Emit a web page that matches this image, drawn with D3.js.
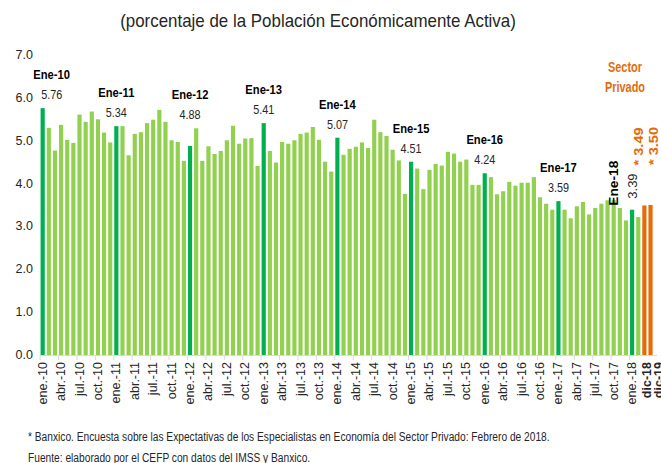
<!DOCTYPE html>
<html>
<head>
<meta charset="utf-8">
<script src="https://cdn.jsdelivr.net/npm/d3@7"></script>
<style>
  body { margin: 0; background: #fff; }
  svg { display: block; font-family: "Liberation Sans", Arial, sans-serif; }
</style>
</head>
<body>
<svg width="661" height="463"></svg>
<script>
// meses mostrados en el eje (cada 3 meses)
const mesesAbr = ["ene.", "feb.", "mar.", "abr.", "may.", "jun.", "jul.", "ago.", "sep.", "oct.", "nov.", "dic."];
const anios = ["10", "11", "12", "13", "14", "15", "16", "17", "18"];

// tasa de desocupación mensual, ene-10 a feb-18
const tasa = [
  5.76, 5.30, 4.77, 5.37, 5.02, 4.95, 5.61, 5.44, 5.68, 5.50, 5.19, 4.96,
  5.34, 5.34, 4.66, 5.16, 5.20, 5.41, 5.49, 5.72, 5.44, 5.01, 4.97, 4.53,
  4.88, 5.29, 4.53, 4.87, 4.69, 4.76, 5.01, 5.35, 4.93, 5.05, 5.06, 4.41,
  5.41, 4.76, 4.49, 4.97, 4.93, 5.01, 5.16, 5.19, 5.32, 5.02, 4.51, 4.28,
  5.07, 4.67, 4.81, 4.86, 4.96, 4.83, 5.49, 5.20, 5.11, 4.79, 4.54, 3.76,
  4.51, 4.35, 3.87, 4.32, 4.46, 4.42, 4.74, 4.70, 4.51, 4.56, 3.97, 3.97,
  4.24, 4.15, 3.75, 3.82, 4.04, 3.95, 4.02, 4.02, 4.15, 3.68, 3.53, 3.39,
  3.59, 3.39, 3.19, 3.47, 3.57, 3.28, 3.43, 3.53, 3.61, 3.62, 3.43, 3.14,
  3.39, 3.22
];

// pronóstico del sector privado (Banxico)
const pronosticoCat = ["dic-18", "dic-19"];
const pronostico = [3.49, 3.50];

// meses de enero resaltados
const eneros = ["Ene-10", "Ene-11", "Ene-12", "Ene-13", "Ene-14", "Ene-15", "Ene-16", "Ene-17", "Ene-18"];

const yTicks = [0, 1, 2, 3, 4, 5, 6, 7];

// construir categorías
const meses = [];
anios.forEach(a => mesesAbr.forEach(m => meses.push(m + "-" + a)));
const mesesDatos = meses.slice(0, tasa.length);

const datos = mesesDatos.map((m, i) => ({ cat: m, valor: tasa[i], tipo: i % 12 === 0 ? "ene" : "mes" }))
  .concat(pronosticoCat.map((c, i) => ({ cat: c, valor: pronostico[i], tipo: "pron" })));

const svg = d3.select("svg");
const colores = { mes: "#92D050", ene: "#00B050", pron: "#E36C09" };

// estrecha el texto para parecerse a Calibri
function condensar(sel, f) {
  sel.each(function () {
    const l = this.getComputedTextLength();
    d3.select(this).attr("textLength", l * f).attr("lengthAdjust", "spacingAndGlyphs");
  });
}

const x = d3.scaleBand()
  .domain(datos.map(d => d.cat))
  .range([39.6, 653.6])
  .paddingInner(0.32)
  .paddingOuter(0.16);

const y = d3.scaleLinear().domain([0, 7]).range([355, 55]);

// título
svg.append("text")
  .attr("x", 318)
  .attr("y", 27)
  .attr("text-anchor", "middle")
  .attr("font-size", 19)
  .attr("fill", "#262626")
  .text("(porcentaje de la Población Económicamente Activa)")
  .call(condensar, 0.89);

// eje Y (solo etiquetas)
svg.append("g")
  .selectAll("text")
  .data(yTicks)
  .join("text")
  .attr("x", 33)
  .attr("y", d => y(d) + 4)
  .attr("text-anchor", "end")
  .attr("font-size", 12.5)
  .attr("fill", "#262626")
  .text(d => d.toFixed(1));

// barras
svg.append("g")
  .selectAll("rect")
  .data(datos)
  .join("rect")
  .attr("x", d => x(d.cat))
  .attr("width", x.bandwidth())
  .attr("y", d => y(d.valor))
  .attr("height", d => y(0) - y(d.valor))
  .attr("fill", d => colores[d.tipo]);

// eje X
const paso = x.step();
const ejeX = svg.append("g");
ejeX.append("line")
  .attr("x1", 39.6).attr("x2", 657)
  .attr("y1", y(0) + 0.5).attr("y2", y(0) + 0.5)
  .attr("stroke", "#d9d9d9");

const etiquetasX = datos.filter((d, i) => (d.tipo !== "pron" && i % 3 === 0) || d.tipo === "pron");
ejeX.selectAll("line.tick")
  .data(etiquetasX.filter(d => d.tipo !== "pron"))
  .join("line")
  .attr("class", "tick")
  .attr("x1", d => x(d.cat) - (paso - x.bandwidth()) / 2 + 0.5)
  .attr("x2", d => x(d.cat) - (paso - x.bandwidth()) / 2 + 0.5)
  .attr("y1", y(0))
  .attr("y2", y(0) + 5)
  .attr("stroke", "#d9d9d9");

ejeX.selectAll("text")
  .data(etiquetasX)
  .join("text")
  .attr("transform", d => {
    const extra = d.tipo !== "pron" ? 4 : (d.cat === "dic-18" ? 7 : 12);
    return `translate(${x(d.cat) + x.bandwidth() / 2 + extra},${y(0) + 7}) rotate(-90)`;
  })
  .attr("text-anchor", "end")
  .attr("font-size", 12.5)
  .attr("font-weight", d => d.tipo === "pron" ? "bold" : "normal")
  .attr("fill", "#262626")
  .text(d => d.cat);

// anotaciones de enero
const anot = svg.append("g");
eneros.forEach((e, k) => {
  const i = k * 12;
  const d = datos[i];
  const cx = x(d.cat) + x.bandwidth() / 2;
  const top = y(d.valor);
  if (k === eneros.length - 1) {
    // Ene-18 vertical
    anot.append("text")
      .attr("transform", `translate(${cx - 14},${top - 4}) rotate(-90)`)
      .attr("font-size", 13).attr("font-weight", "bold").attr("fill", "#000")
      .attr("textLength", 45).attr("lengthAdjust", "spacingAndGlyphs")
      .text(e);
    anot.append("text")
      .attr("transform", `translate(${cx + 5},${top - 11}) rotate(-90)`)
      .attr("font-size", 13).attr("fill", "#262626")
      .text(d.valor.toFixed(2));
    return;
  }
  // por encima de la barra y de sus vecinas
  const vecinas = datos.slice(Math.max(0, i - 1), i + 2).map(v => v.valor);
  const base = y(d3.max(vecinas)) - 9;
  const dx = k === 0 ? 9 : 0;
  anot.append("text")
    .attr("x", cx + dx).attr("y", base)
    .attr("text-anchor", "middle")
    .attr("font-size", 13.5).attr("fill", "#262626")
    .text(d.valor.toFixed(2))
    .call(condensar, 0.8);
  anot.append("text")
    .attr("x", cx + dx).attr("y", base - 20)
    .attr("text-anchor", "middle")
    .attr("font-size", 13).attr("font-weight", "bold").attr("fill", "#000")
    .text(e)
    .call(condensar, 0.86);
});

// etiquetas del pronóstico
datos.filter(d => d.tipo === "pron").forEach((d, i) => {
  const cx = x(d.cat) + x.bandwidth() / 2 + (i === 0 ? -1.5 : 7.5);
  svg.append("text")
    .attr("transform", `translate(${cx},${y(d.valor) - 40}) rotate(-90)`)
    .attr("font-size", 13).attr("font-weight", "bold").attr("fill", colores.pron)
    .attr("textLength", 38).attr("lengthAdjust", "spacingAndGlyphs")
    .text("* " + d.valor.toFixed(2));
});

["Sector", "Privado"].forEach((t, i) => {
  svg.append("text")
    .attr("x", 625).attr("y", 72 + i * 20)
    .attr("text-anchor", "middle")
    .attr("font-size", 14).attr("font-weight", "bold").attr("fill", colores.pron)
    .text(t)
    .call(condensar, 0.78);
});

// notas
const notas = [
  "* Banxico. Encuesta sobre las Expectativas de los Especialistas en Economía del Sector Privado: Febrero de 2018.",
  "Fuente: elaborado por el CEFP con datos del IMSS y Banxico."
];
svg.append("g")
  .selectAll("text")
  .data(notas)
  .join("text")
  .attr("x", 28)
  .attr("y", (d, i) => 441 + i * 21)
  .attr("font-size", 12)
  .attr("fill", "#262626")
  .text(d => d)
  .call(condensar, 0.85);
</script>
</body>
</html>
